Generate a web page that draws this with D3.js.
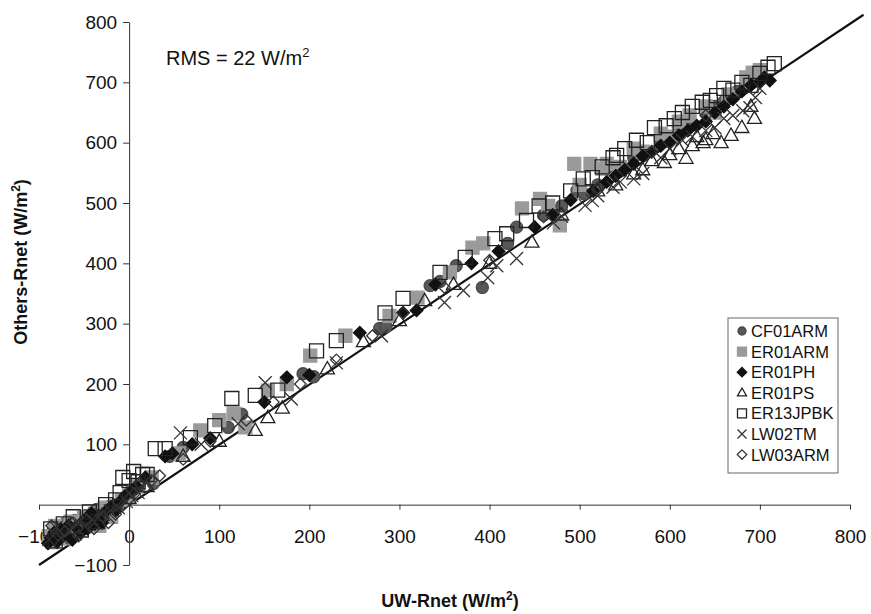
<!DOCTYPE html>
<html>
<head>
<meta charset="utf-8">
<script src="https://cdn.jsdelivr.net/npm/d3@7"></script>
<style>
  html, body { margin: 0; padding: 0; background: #fff; }
  svg { display: block; font-family: "Liberation Sans", Arial, sans-serif; }
</style>
</head>
<body>
<svg id="chart" width="871" height="614"></svg>
<script>
// ---------------- DATA ----------------
const seriesNames = ["CF01ARM", "ER01ARM", "ER01PH", "ER01PS", "ER13JPBK", "LW02TM", "LW03ARM"];
const xTicks = [-100, 0, 100, 200, 300, 400, 500, 600, 700, 800];
const yTicks = [-100, 0, 100, 200, 300, 400, 500, 600, 700, 800];
const oneToOne = [[-100, -100], [815, 812]];
const rmsText = "RMS = 22 W/m";

const CF01ARM = [[-88,-60],[-86,-48],[-84,-40],[-80,-55],[-78,-36],[-74,-47],[-70,-30],[-68,-52],[-64,-38],[-60,-26],[-57,-44],[-52,-30],[-48,-18],[-45,-36],[-40,-22],[-36,-8],[-32,-25],[-28,-12],[-22,-3],[-18,-14],[-12,2],[-5,12],[5,25],[27,35],[45,80],[60,95],[110,128],[125,150],[193,217],[205,212],[278,292],[285,295],[334,363],[345,370],[363,396],[392,360],[420,433],[430,460],[460,480],[480,495],[497,521],[505,515],[520,530],[531,559],[545,553],[560,575],[570,580],[590,600],[600,610],[610,615],[625,630],[640,650],[650,660],[660,668],[675,685],[690,700],[700,710]];
const ER01ARM = [[-89,-52],[-85,-62],[-82,-35],[-77,-45],[-72,-56],[-69,-40],[-65,-28],[-60,-48],[-55,-36],[-50,-22],[-44,-30],[-38,-15],[-33,-35],[-27,-5],[-20,-20],[-14,-2],[-8,8],[0,15],[10,30],[25,45],[55,85],[79,123],[100,140],[116,151],[129,128],[154,189],[175,200],[201,247],[240,280],[289,313],[320,343],[356,385],[381,426],[393,433],[436,491],[456,507],[465,495],[478,463],[494,565],[500,530],[512,565],[525,557],[530,565],[545,560],[560,590],[570,585],[590,615],[600,610],[610,635],[622,645],[640,660],[650,650],[665,680],[685,708],[692,716],[700,720]];
const ER01PH = [[-90,-64],[-87,-55],[-83,-46],[-80,-62],[-76,-40],[-72,-50],[-67,-34],[-63,-58],[-59,-38],[-54,-46],[-50,-26],[-46,-40],[-42,-14],[-38,-32],[-34,-18],[-30,-30],[-25,-10],[-20,-4],[-15,-10],[-10,5],[-4,15],[2,22],[8,30],[18,45],[40,80],[48,85],[70,100],[90,110],[150,170],[175,211],[200,215],[256,285],[304,318],[319,322],[340,365],[380,400],[410,420],[450,460],[470,480],[490,505],[515,520],[530,535],[540,545],[550,555],[560,565],[570,578],[580,585],[590,595],[600,600],[610,612],[620,620],[630,628],[640,635],[650,650],[660,660],[670,672],[680,685],[690,695],[700,700],[705,708],[711,703]];
const ER01PS = [[-60,-40],[-30,-18],[0,10],[20,30],[60,80],[100,105],[140,123],[154,144],[170,160],[220,225],[260,270],[300,305],[328,338],[360,365],[400,400],[447,435],[480,480],[520,520],[540,530],[560,548],[570,555],[580,570],[594,567],[600,580],[610,590],[618,574],[625,595],[630,610],[637,600],[640,605],[648,615],[657,600],[668,612],[680,625],[690,660],[694,640]];
const ER13JPBK = [[-87,-40],[-82,-60],[-73,-32],[-62,-20],[-53,-42],[-44,-12],[-35,-28],[-26,0],[-15,8],[-10,20],[-7,45],[0,40],[5,55],[10,38],[15,50],[20,50],[29,93],[40,93],[68,111],[95,131],[114,176],[140,181],[165,190],[208,255],[230,272],[284,318],[304,342],[345,385],[373,410],[406,441],[419,449],[441,471],[455,495],[470,500],[490,520],[504,540],[514,542],[525,560],[537,575],[541,579],[550,590],[563,604],[575,600],[583,625],[596,628],[605,640],[614,650],[625,660],[636,667],[645,670],[652,678],[660,690],[670,687],[680,700],[690,695],[700,715],[709,725],[716,731]];
const LW02TM = [[-89,-58],[-81,-38],[-75,-55],[-66,-44],[-58,-30],[-49,-36],[-41,-24],[-31,-16],[-21,-10],[-12,-5],[-3,5],[3,15],[10,20],[57,119],[80,100],[121,134],[151,202],[180,175],[230,235],[280,280],[350,335],[371,355],[398,376],[408,396],[430,408],[471,467],[480,478],[506,496],[514,504],[520,512],[537,526],[545,535],[560,540],[570,549],[590,575],[600,590],[614,604],[625,610],[640,620],[650,625],[660,640],[670,645],[681,653],[689,658],[695,675],[700,690]];
const LW03ARM = [[-86,-35],[-79,-50],[-71,-44],[-62,-30],[-56,-52],[-47,-26],[-39,-40],[-29,-20],[-23,-30],[-15,-16],[-6,0],[0,10],[6,18],[12,35],[18,28],[25,40],[34,48],[60,75],[90,105],[130,140],[160,170],[190,200],[230,240],[270,280],[304,318],[350,360],[400,405],[460,477],[520,525],[580,585],[640,645]];

const seriesData = [CF01ARM, ER01ARM, ER01PH, ER01PS, ER13JPBK, LW02TM, LW03ARM];

// ---------------- STYLE ----------------
const styles = [
  {shape: "circle",   fill: "#585858", stroke: "#484848", size: 12},
  {shape: "square",   fill: "#9a9a9a", stroke: "#9a9a9a", size: 13},
  {shape: "diamond",  fill: "#111",    stroke: "#111",    size: 12},
  {shape: "triangle", fill: "none",    stroke: "#222",    size: 14},
  {shape: "square",   fill: "none",    stroke: "#222",    size: 14},
  {shape: "x",        fill: "none",    stroke: "#333",    size: 13},
  {shape: "diamond",  fill: "none",    stroke: "#333",    size: 11}
];
const FONT = "Liberation Sans, Arial, sans-serif";

function markerPath(shape, s) {
  const h = s / 2;
  switch (shape) {
    case "circle": {
      const p = d3.path(); p.arc(0, 0, h, 0, 2 * Math.PI); return p.toString();
    }
    case "square": return `M${-h},${-h}H${h}V${h}H${-h}Z`;
    case "diamond": { const d = h * 1.05; return `M0,${-d}L${d},0L0,${d}L${-d},0Z`; }
    case "triangle": { const t = s * 0.88; return `M0,${-t * 0.6}L${h},${t * 0.4}L${-h},${t * 0.4}Z`; }
    case "x": return `M${-h},${-h}L${h},${h}M${h},${-h}L${-h},${h}`;
  }
}

// ---------------- CHART ----------------
const svg = d3.select("#chart");
const x = d3.scaleLinear().domain([-100, 800]).range([39, 850]);
const y = d3.scaleLinear().domain([-100, 800]).range([565, 22]);

// axes
const xAxis = svg.append("g")
  .attr("transform", `translate(0,${y(0)})`)
  .call(d3.axisBottom(x).tickValues(xTicks).tickSize(5).tickSizeOuter(0).tickPadding(20).tickFormat(d3.format("d")));
xAxis.select(".domain").attr("stroke", "#333");
xAxis.selectAll(".tick line").attr("stroke", "#333");
xAxis.selectAll(".tick text").attr("font-size", 19).attr("fill", "#111").attr("font-family", FONT);

const yAxis = svg.append("g")
  .attr("transform", `translate(${x(0)},0)`)
  .call(d3.axisLeft(y).tickValues(yTicks.filter(d => d !== 0)).tickSize(6).tickSizeOuter(0).tickPadding(6).tickFormat(d3.format("d")));
yAxis.select(".domain").attr("stroke", "#333");
yAxis.selectAll(".tick line").attr("stroke", "#333");
yAxis.selectAll(".tick text").attr("font-size", 19).attr("fill", "#111").attr("font-family", FONT);

// 1:1 line
svg.append("path")
  .datum(oneToOne)
  .attr("d", d3.line().x(d => x(d[0])).y(d => y(d[1])))
  .attr("stroke", "#111").attr("stroke-width", 2.2).attr("fill", "none");

// points
seriesData.forEach((data, i) => {
  const st = styles[i];
  svg.append("g").attr("class", "series-" + seriesNames[i])
    .selectAll("path").data(data).join("path")
    .attr("transform", d => `translate(${x(d[0])},${y(d[1])})`)
    .attr("d", markerPath(st.shape, st.size))
    .attr("fill", st.fill)
    .attr("stroke", st.stroke)
    .attr("stroke-width", 1.3);
});

// RMS annotation
const rms = svg.append("text").attr("x", 166).attr("y", 65).attr("font-size", 20).attr("fill", "#111");
rms.append("tspan").text(rmsText);
rms.append("tspan").attr("dy", -8).attr("font-size", 13).text("2");

// axis titles
const xt = svg.append("text").attr("x", 450).attr("y", 607).attr("text-anchor", "middle")
  .attr("font-size", 18).attr("font-weight", "bold").attr("fill", "#111");
xt.append("tspan").text("UW-Rnet (W/m");
xt.append("tspan").attr("dy", -7).attr("font-size", 12).text("2");
xt.append("tspan").attr("dy", 7).text(")");

const yt = svg.append("text").attr("transform", `translate(27,262) rotate(-90)`).attr("text-anchor", "middle")
  .attr("font-size", 18).attr("font-weight", "bold").attr("fill", "#111");
yt.append("tspan").text("Others-Rnet (W/m");
yt.append("tspan").attr("dy", -7).attr("font-size", 12).text("2");
yt.append("tspan").attr("dy", 7).text(")");

// legend
const lg = svg.append("g").attr("transform", "translate(728,318)");
lg.append("rect").attr("width", 110).attr("height", 155).attr("fill", "#fff").attr("stroke", "#666").attr("stroke-width", 1);
seriesNames.forEach((name, i) => {
  const st = styles[i];
  const cy = 13 + i * 20.6;
  lg.append("path").attr("transform", `translate(14,${cy})`)
    .attr("d", markerPath(st.shape, st.shape === "circle" ? 8 : 9))
    .attr("fill", st.fill).attr("stroke", st.stroke).attr("stroke-width", 1.3);
  lg.append("text").attr("x", 23).attr("y", cy + 6).attr("font-size", 16.5).attr("fill", "#111").text(name);
});
</script>
</body>
</html>
